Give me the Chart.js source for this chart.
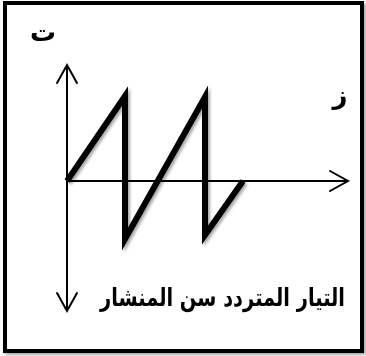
<!DOCTYPE html>
<html>
<head>
<meta charset="utf-8">
<script src="https://cdn.jsdelivr.net/npm/chart.js@4.4.1/dist/chart.umd.min.js"></script>
<style>
  html, body { margin: 0; padding: 0; background: #fff; }
  #wrap { position: relative; width: 366px; height: 356px; }
  #frame {
    position: absolute; left: 3px; top: 1px; width: 353px; height: 344px;
    border: 4px solid #000; box-shadow: 2px 2px 3px rgba(0,0,0,0.35);
  }
  canvas { position: absolute; left: 0; top: 0; }
</style>
</head>
<body>
<div id="wrap">
  <div id="frame"></div>
  <canvas id="chart" width="366" height="356"></canvas>
</div>
<script>
// sawtooth current vs time (arbitrary units, origin at axes crossing)
const times = [0, 58, 58, 138, 138, 176]
const current = [0, 85, -58, 84, -54, 0]

// axis extents
const timeAxisEnd = 281
const currentAxisTop = 116
const currentAxisBottom = -130

// labels
const currentLabel = "ت"
const timeLabel = "ز"
const caption = "التيار المتردد سن المنشار"

const arrow = (ctx, x, y, dx, dy) => {
  const len = 18, half = 10
  const bx = x - dx * len, by = y - dy * len
  ctx.beginPath()
  ctx.moveTo(bx - dy * half, by + dx * half)
  ctx.lineTo(x, y)
  ctx.lineTo(bx + dy * half, by - dx * half)
  ctx.stroke()
}

const axesPlugin = {
  id: "axes",
  beforeDatasetsDraw(chart) {
    const { ctx, scales: { x, y } } = chart
    const x0 = x.getPixelForValue(0), y0 = y.getPixelForValue(0)
    const xEnd = x.getPixelForValue(timeAxisEnd)
    const yTop = y.getPixelForValue(currentAxisTop)
    const yBot = y.getPixelForValue(currentAxisBottom)
    ctx.save()
    ctx.strokeStyle = "#000"
    ctx.lineWidth = 2
    ctx.lineCap = "butt"
    ctx.beginPath()
    ctx.moveTo(x0, y0); ctx.lineTo(xEnd, y0)
    ctx.moveTo(x0, yBot); ctx.lineTo(x0, yTop)
    ctx.stroke()
    ctx.lineCap = "round"
    arrow(ctx, xEnd, y0, 1, 0)
    arrow(ctx, x0, yTop, 0, -1)
    arrow(ctx, x0, yBot, 0, 1)
    ctx.restore()
  },
  beforeDatasetDraw(chart) {
    const ctx = chart.ctx
    ctx.save()
    ctx.shadowColor = "rgba(0,0,0,0.35)"
    ctx.shadowBlur = 3
    ctx.shadowOffsetX = 2
    ctx.shadowOffsetY = 2
  },
  afterDatasetDraw(chart) {
    chart.ctx.restore()
  },
  afterDraw(chart) {
    const { ctx, scales: { x, y } } = chart
    const x0 = x.getPixelForValue(0), y0 = y.getPixelForValue(0)
    ctx.save()
    ctx.fillStyle = "#000"
    ctx.direction = "rtl"
    ctx.textBaseline = "middle"
    ctx.textAlign = "center"
    ctx.font = "bold 26px 'DejaVu Sans'"
    ctx.fillText(currentLabel, x0 - 24, y.getPixelForValue(currentAxisTop) - 31)
    ctx.fillText(timeLabel, x.getPixelForValue(timeAxisEnd) - 8, y0 - 84)

    // caption, squeezed to the reference width
    ctx.font = "bold 25px 'DejaVu Sans'"
    const w = ctx.measureText(caption).width
    const sx = Math.min(1, 245 / w)
    ctx.translate(345, 299)
    ctx.scale(sx, 1)
    ctx.textAlign = "right"
    ctx.fillText(caption, 0, 0)
    ctx.restore()
  }
}

new Chart(document.getElementById("chart"), {
  type: "scatter",
  data: {
    datasets: [{
      data: times.map((t, i) => ({ x: t, y: current[i] })),
      showLine: true,
      borderColor: "#000",
      borderWidth: 6,
      borderJoinStyle: "miter",
      borderCapStyle: "butt",
      pointRadius: 0,
      tension: 0
    }]
  },
  options: {
    responsive: false,
    animation: false,
    layout: { padding: 0 },
    plugins: { legend: { display: false }, tooltip: { enabled: false } },
    scales: {
      x: { display: false, min: -67, max: 299 },
      y: { display: false, min: -175, max: 181 }
    }
  },
  plugins: [axesPlugin]
})
</script>
</body>
</html>
